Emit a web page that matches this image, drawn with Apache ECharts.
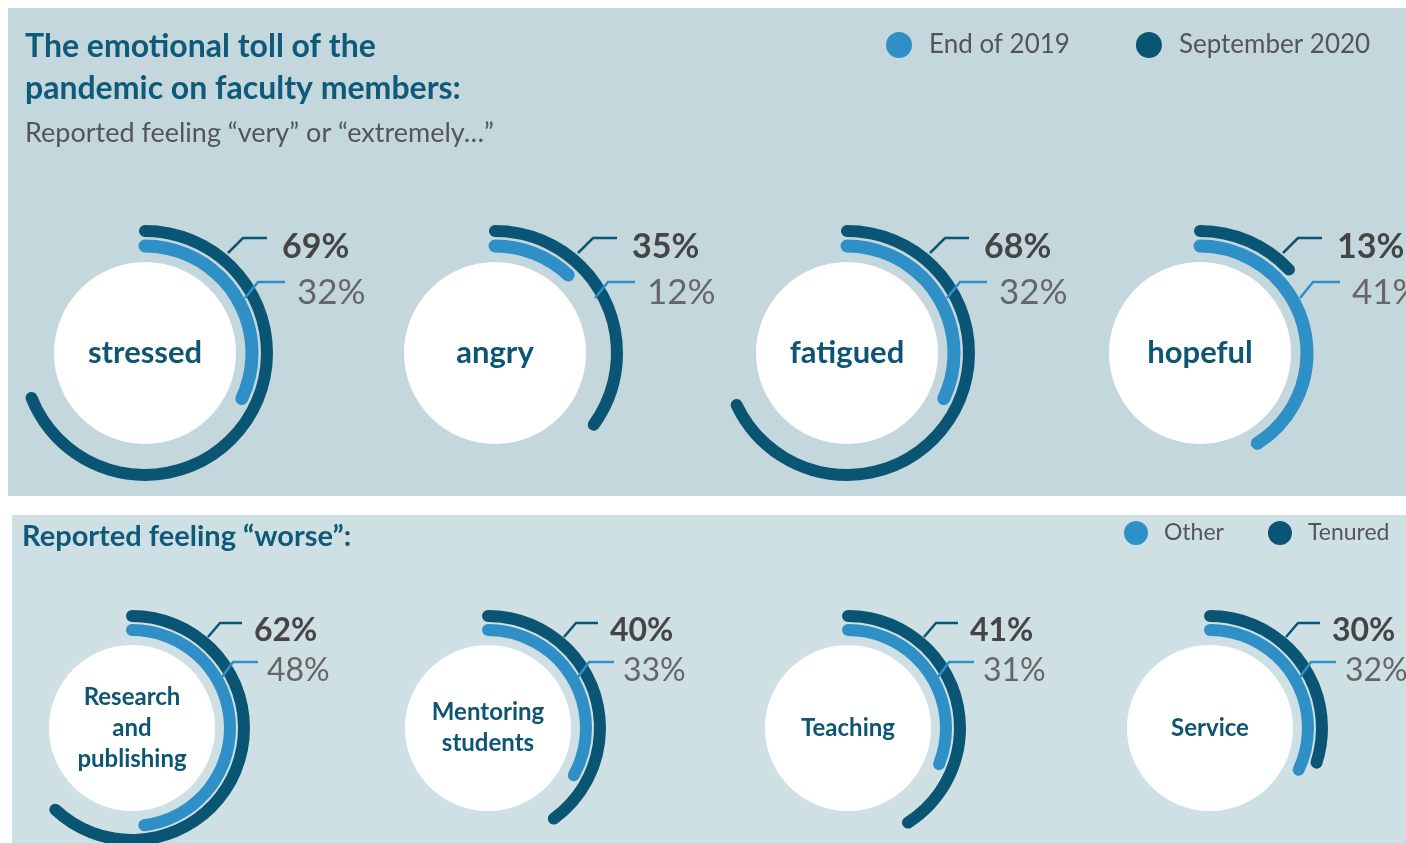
<!DOCTYPE html>
<html>
<head>
<meta charset="utf-8">
<script src="https://cdn.jsdelivr.net/npm/echarts@6/dist/echarts.min.js"></script>
<style>
  html, body { margin: 0; padding: 0; background: #fff; }
  #chart { width: 1406px; height: 843px; }
</style>
</head>
<body>
<div id="chart"></div>
<script>
// data
const feelings = ['stressed', 'angry', 'fatigued', 'hopeful'];
const end2019 = [32, 12, 32, 41];
const sept2020 = [69, 35, 68, 13];

const tasks = ['Research\nand\npublishing', 'Mentoring\nstudents', 'Teaching', 'Service'];
const other = [48, 33, 31, 32];
const tenured = [62, 40, 41, 30];

const LIGHT = '#2f8fc7';
const DARK = '#0b5574';
const TITLE = '#0f5a79';
const FONT = 'Lato, "Open Sans", sans-serif';

// layout of the two rows
const topRow = {
  xs: [145, 495, 847, 1200], cy: 353, disc: 91,
  rLight: 107, wLight: 13, rDark: 122, wDark: 12,
  darkLeader: [[83, -100], [98, -115], [122, -115]],
  lightLeader: [[100, -55], [113, -71], [140, -71]],
  darkText: [137, -106, 34], lightText: [152, -60, 35], wordSize: 31
};
const bottomRow = {
  xs: [132, 488, 848, 1210], cy: 728, disc: 83,
  rLight: 98, wLight: 12, rDark: 112, wDark: 12,
  darkLeader: [[76, -91], [88, -105], [110, -105]],
  lightLeader: [[90, -51], [101, -66], [126, -66]],
  darkText: [122, -97, 32], lightText: [135, -57, 32], wordSize: 24
};

let polar = [], angleAxis = [], radiusAxis = [], series = [];
let graphic = [
  { type: 'rect', shape: { x: 8, y: 8, width: 1398, height: 488 }, style: { fill: '#c3d7dd' } },
  { type: 'rect', shape: { x: 12, y: 515, width: 1394, height: 328 }, style: { fill: '#cfe0e4' } }
];

// one polar system per ring, so every ring gets its own band
function addRing(cx, cy, r, w, value, seriesName, color) {
  const k = polar.length;
  polar.push({ center: [cx, cy], radius: [r - w / 2 - 1, r + w / 2 + 1] });
  angleAxis.push({ polarIndex: k, min: 0, max: 100, startAngle: 90, show: false });
  radiusAxis.push({ polarIndex: k, type: 'category', data: ['ring'], show: false });
  series.push({
    type: 'bar', name: seriesName, coordinateSystem: 'polar', polarIndex: k,
    data: [value], barWidth: w, roundCap: true, silent: true, clip: false,
    itemStyle: { color: color }
  });
}

function addRow(row, names, inner, outer, innerName, outerName) {
  names.forEach((name, i) => {
    const cx = row.xs[i], cy = row.cy;
    addRing(cx, cy, row.rLight, row.wLight, inner[i], innerName, LIGHT);
    addRing(cx, cy, row.rDark, row.wDark, outer[i], outerName, DARK);

    series.push({
      type: 'pie', center: [cx, cy], radius: [0, row.disc], silent: true,
      data: [{ value: 1, name: name }],
      itemStyle: { color: '#ffffff' },
      label: {
        position: 'center', formatter: '{b}', color: '#0d5573',
        fontSize: row.wordSize, fontWeight: 'bold', fontFamily: FONT,
        lineHeight: row.wordSize * 1.3
      },
      labelLine: { show: false },
      emphasis: { disabled: true }
    });

    // leader lines
    graphic.push({
      type: 'polyline', z: 5,
      shape: { points: row.darkLeader.map(p => [cx + p[0], cy + p[1]]) },
      style: { stroke: DARK, lineWidth: 2.5, fill: null }
    });
    graphic.push({
      type: 'polyline', z: 5,
      shape: { points: row.lightLeader.map(p => [cx + p[0], cy + p[1]]) },
      style: { stroke: LIGHT, lineWidth: 2.5, fill: null }
    });
    // value labels
    graphic.push({
      type: 'text', z: 5, x: cx + row.darkText[0], y: cy + row.darkText[1],
      style: {
        text: outer[i] + '%', fill: '#454545', verticalAlign: 'middle',
        font: 'bold ' + row.darkText[2] + 'px ' + FONT
      }
    });
    graphic.push({
      type: 'text', z: 5, x: cx + row.lightText[0], y: cy + row.lightText[1],
      style: {
        text: inner[i] + '%', fill: '#666666', verticalAlign: 'middle',
        font: row.lightText[2] + 'px ' + FONT
      }
    });
  });
}

addRow(topRow, feelings, end2019, sept2020, 'End of 2019', 'September 2020');
addRow(bottomRow, tasks, other, tenured, 'Other', 'Tenured');

const chart = echarts.init(document.getElementById('chart'));
chart.setOption({
  animation: false,
  backgroundColor: '#ffffff',
  title: [
    {
      text: 'The emotional toll of the\npandemic on faculty members:',
      left: 25, top: 26, padding: 0,
      textStyle: { color: TITLE, fontSize: 32, fontWeight: 'bold', fontFamily: FONT, lineHeight: 42 }
    },
    {
      text: 'Reported feeling “very” or “extremely…”',
      left: 25, top: 120, padding: 0,
      textStyle: { color: '#555555', fontSize: 27, fontWeight: 'normal', fontFamily: FONT }
    },
    {
      text: 'Reported feeling “worse”:',
      left: 22, top: 522, padding: 0,
      textStyle: { color: TITLE, fontSize: 29, fontWeight: 'bold', fontFamily: FONT }
    }
  ],
  legend: [
    {
      data: ['End of 2019', 'September 2020'],
      left: 886, top: 32, padding: 0, icon: 'circle',
      itemWidth: 26, itemHeight: 26, itemGap: 66,
      textStyle: { color: '#555555', fontSize: 26, fontFamily: FONT, padding: [0, 0, 0, 12] }
    },
    {
      data: ['Other', 'Tenured'],
      left: 1124, top: 521, padding: 0, icon: 'circle',
      itemWidth: 24, itemHeight: 24, itemGap: 44,
      textStyle: { color: '#555555', fontSize: 23, fontFamily: FONT, padding: [0, 0, 0, 11] }
    }
  ],
  polar: polar,
  angleAxis: angleAxis,
  radiusAxis: radiusAxis,
  graphic: graphic,
  series: series
});
</script>
</body>
</html>
